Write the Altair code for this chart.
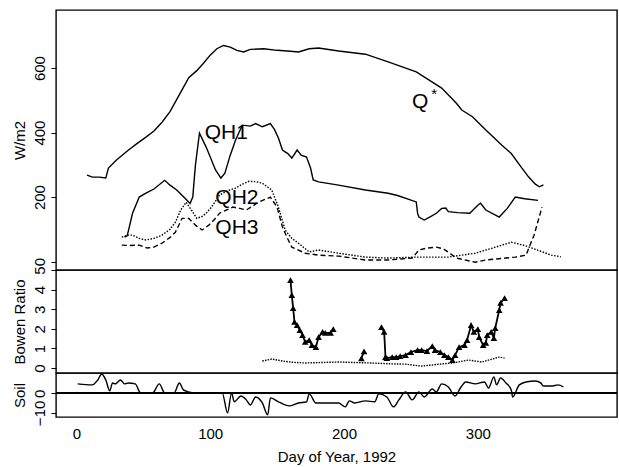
import altair as alt
import pandas as pd

# ---------------- data ----------------
qstar_day = [8, 12, 17, 22, 24, 30, 39, 45, 52, 58, 64, 70, 74, 80, 84, 90, 95, 100, 105, 110,
             115, 120, 125, 130, 140, 150, 160, 166, 174, 181, 196, 216, 233, 254, 273, 284,
             288, 296, 306, 318, 325, 332, 338, 343, 346, 349]
qstar_val = [268, 262, 262, 259, 290, 315, 346, 365, 386, 405, 432, 465, 495, 540, 570, 592,
             615, 640, 660, 670, 665, 655, 650, 658, 660, 655, 652, 650, 660, 662, 653, 643,
             619, 588, 538, 491, 470, 449, 408, 361, 335, 295, 262, 240, 232, 238]

qh1_day = [36, 38, 42, 47, 52, 58, 66, 70, 75, 81, 85, 87, 89, 92, 97, 104, 108, 111, 115, 119,
           124, 130, 134, 139, 145, 148, 151, 154, 158, 161, 165, 168, 172, 175, 177, 181, 196,
           216, 233, 240, 254, 255, 256, 260, 265, 269, 273, 276, 278, 285, 294, 300, 302, 306,
           316, 322, 328, 335, 345]
qh1_val = [76, 80, 150, 200, 212, 225, 252, 237, 222, 197, 180, 200, 300, 398, 355, 284, 259,
           274, 330, 377, 423, 420, 428, 418, 428, 410, 383, 346, 335, 321, 346, 330, 324, 290,
           253, 247, 237, 222, 212, 205, 185, 150, 138, 129, 140, 150, 165, 166, 155, 152, 150,
           175, 181, 160, 138, 165, 200, 195, 190]

qh2_day = [34, 38, 42, 47, 52, 58, 64, 70, 74, 78, 82, 86, 90, 94, 97, 101, 107, 113, 119, 124,
           129, 134, 139, 146, 151, 156, 161, 166, 174, 181, 196, 216, 233, 254, 278, 298, 311,
           325, 335, 345, 355, 362]
qh2_val = [76, 82, 82, 72, 67, 72, 82, 100, 122, 160, 184, 160, 134, 140, 150, 169, 206, 220,
           228, 240, 249, 248, 243, 222, 169, 98, 72, 57, 30, 36, 26, 14, 11, 14, 14, 26, 42,
           60, 50, 35, 20, 15]

qh3_day = [34, 40, 47, 53, 58, 64, 70, 74, 79, 84, 89, 94, 99, 103, 107, 117, 122, 127, 131,
           136, 145, 150, 154, 158, 161, 171, 181, 196, 216, 233, 251, 256, 262, 269, 274, 278,
           284, 298, 306, 321, 328, 336, 342, 348]
qh3_val = [51, 50, 51, 42, 45, 57, 75, 91, 134, 134, 113, 98, 113, 130, 150, 169, 165, 160, 170,
           184, 200, 169, 107, 70, 45, 26, 20, 17, 5, 5, 11, 36, 42, 45, 40, 29, 11, -2, 5, 11,
           14, 20, 82, 169]

bowen_seg = ([1] * 16) + ([2] * 2) + ([3] * 35)
bowen_day = [160, 161, 162, 163, 165, 167, 169, 171, 174, 176, 179, 181, 184, 186, 190, 192,
             213, 215,
             228, 230, 231, 232, 236, 239, 242, 246, 250, 255, 258, 262, 266, 268, 272, 275, 278,
             281, 283, 286, 290, 292, 295, 297, 300, 301, 304, 306, 307, 310, 312, 313, 316, 317,
             320]
bowen_val = [4.49, 3.72, 3.06, 2.35, 2.19, 1.94, 1.68, 1.33, 1.43, 1.17, 1.07, 1.58, 1.84, 1.79,
             1.79, 1.99,
             0.5, 0.85,
             2.09, 1.84, 0.56, 0.51, 0.56, 0.56, 0.61, 0.66, 0.82, 0.92, 0.92, 0.87, 1.12, 0.92,
             0.82, 0.66, 0.56, 0.41, 0.66, 1.07, 1.17, 1.43, 2.19, 1.84, 1.99, 1.58, 1.17, 1.28,
             1.68, 1.84, 1.53, 2.04, 2.96, 3.32, 3.57]

bowen2_day = [139, 146, 154, 161, 171, 181, 196, 210, 221, 233, 246, 258, 271, 281, 293, 303,
              316, 320]
bowen2_val = [0.36, 0.46, 0.36, 0.3, 0.26, 0.28, 0.31, 0.28, 0.26, 0.22, 0.2, 0.1, 0.2, 0.26,
              0.41, 0.31, 0.56, 0.51]

soil_day = [1, 12, 16, 19, 22, 25, 27, 29, 33, 36, 39, 44, 48, 57, 62, 66, 73, 77, 80, 84, 88,
            106, 109, 113, 116, 118, 123, 127, 130, 134, 139, 143, 145, 151, 159, 166, 172, 174,
            179, 186, 196, 201, 204, 208, 216, 223, 226, 232, 237, 241, 246, 251, 256, 260, 266,
            269, 273, 278, 283, 287, 291, 298, 305, 308, 312, 314, 317, 321, 325, 326, 331, 336,
            343, 347, 349, 355, 360, 364]
soil_val = [4.9, 4.4, 6.9, 10, 6.9, 1.3, 5.4, 4.9, 6.9, 4.9, 5.4, 4.9, 0.3, 0.3, 4.9, 0.3, 0.3,
            5.4, 1.8, 0.8, 0.3, 0.3, 0.3, -10, 0.3, -4.3, -1.3, -3.3, -5.9, -1.8, -4.9, -11, -2.3,
            -4.3, -6.4, -4.9, -4.3, -0.2, -4.9, -4.9, -4.9, -6.9, -3.8, -4.9, -3.8, -4.3, -0.2,
            -1.8, -6.9, -3.3, 0.8, -3.3, 0.8, -1.8, 2.3, 0.8, 4.9, 3.3, -1.3, 2.8, 5.9, 4.9, 5.9,
            2.8, 8.5, 4.4, 7.9, 5.4, 1.8, -1.8, 4.4, 5.9, 6.4, 5.4, 3.8, 3.8, 4.4, 3.3]

label_text = ["QH1", "QH2", "QH3", "Q"]
label_day = [112, 120, 120, 257]
label_val = [399, 197, 104, 495]

top_ticks = [0, 200, 400, 600]
bowen_ticks = [0, 1, 2, 3, 4, 5]
soil_ticks = [-10, 0]
x_ticks = [0, 100, 200, 300]

# ---------------- layout / style ----------------
FONT = "Liberation Sans"
X_DOMAIN = [-15.2, 404]
W = 561
LW = 1.4

xs = alt.Scale(domain=X_DOMAIN, nice=False, zero=False)


def yaxis(values, title):
    return alt.Axis(values=values, title=title, labelAngle=270, labelAlign="center",
                    labelBaseline="bottom", labelPadding=4, tickSize=5, titlePadding=5,
                    domain=False, grid=False)


def line_layer(days, vals, dash=None, ydom=None, yax=None):
    df = pd.DataFrame({"day": days, "val": vals})
    kw = dict(color="black", strokeWidth=LW)
    if dash:
        kw["strokeDash"] = dash
    return alt.Chart(df).mark_line(**kw).encode(
        x=alt.X("day:Q", scale=xs, axis=None),
        y=alt.Y("val:Q", scale=alt.Scale(domain=ydom, nice=False, zero=False), axis=yax),
    )


# ---- top panel ----
TOP_DOM = [-26, 780]
top_axis = yaxis(top_ticks, "W/m2")
q_layer = line_layer(qstar_day, qstar_val, ydom=TOP_DOM, yax=top_axis)
qh1_layer = line_layer(qh1_day, qh1_val, ydom=TOP_DOM, yax=top_axis)
qh2_layer = line_layer(qh2_day, qh2_val, dash=[1.5, 1.5], ydom=TOP_DOM, yax=top_axis)
qh3_layer = line_layer(qh3_day, qh3_val, dash=[5, 3], ydom=TOP_DOM, yax=top_axis)

lab_df = pd.DataFrame({"t": label_text, "day": label_day, "val": label_val})
labels = alt.Chart(lab_df).mark_text(font=FONT, fontSize=21, color="black").encode(
    x=alt.X("day:Q", scale=xs, axis=None),
    y=alt.Y("val:Q", scale=alt.Scale(domain=TOP_DOM, nice=False, zero=False), axis=top_axis),
    text="t:N",
)
star = alt.Chart(lab_df[lab_df.t == "Q"]).mark_text(
    font=FONT, fontSize=15, color="black", dx=14, dy=-8, text="*").encode(
    x=alt.X("day:Q", scale=xs, axis=None),
    y=alt.Y("val:Q", scale=alt.Scale(domain=TOP_DOM, nice=False, zero=False), axis=top_axis),
)

top = alt.layer(q_layer, qh1_layer, qh2_layer, qh3_layer, labels, star).properties(
    width=W, height=260)

# ---- Bowen panel ----
B_DOM = [-0.25, 5.0]
b_axis = yaxis(bowen_ticks, "Bowen Ratio")
bdf = pd.DataFrame({"day": bowen_day, "val": bowen_val, "seg": bowen_seg})
b_line = alt.Chart(bdf).mark_line(color="black", strokeWidth=1.8).encode(
    x=alt.X("day:Q", scale=xs, axis=None),
    y=alt.Y("val:Q", scale=alt.Scale(domain=B_DOM, nice=False, zero=False), axis=b_axis),
    detail="seg:N",
)
b_pts = alt.Chart(bdf).mark_point(shape="triangle-up", filled=True, color="black", size=44,
                                  opacity=1).encode(
    x=alt.X("day:Q", scale=xs, axis=None),
    y=alt.Y("val:Q", scale=alt.Scale(domain=B_DOM, nice=False, zero=False), axis=b_axis),
)
b2 = line_layer(bowen2_day, bowen2_val, dash=[1.5, 1.2], ydom=B_DOM, yax=b_axis)
bowen = alt.layer(b2, b_line, b_pts).properties(width=W, height=103)

# ---- Soil panel ----
S_DOM = [-12.1, 10.5]
s_axis = yaxis(soil_ticks, "Soil")
sdf = pd.DataFrame({"day": soil_day, "val": soil_val})
s_line = alt.Chart(sdf).mark_line(color="black", strokeWidth=LW, interpolate="monotone").encode(
    x=alt.X("day:Q", scale=xs,
            axis=alt.Axis(values=x_ticks, title="Day of Year, 1992", ticks=False,
                          labelPadding=9, titlePadding=8, domain=False, grid=False,
                          labelFlush=False)),
    y=alt.Y("val:Q", scale=alt.Scale(domain=S_DOM, nice=False, zero=False), axis=s_axis),
)
s_zero = alt.Chart(sdf).mark_rule(color="black", strokeWidth=1).encode(y=alt.datum(0))
soil = alt.layer(s_zero, s_line).properties(width=W, height=44)

chart = alt.vconcat(top, bowen, soil, spacing=0, bounds="flush").properties(
    padding={"left": 11, "top": 9, "right": 0, "bottom": 0},
    background="white",
).configure_view(
    stroke="black", strokeWidth=LW,
).configure_axis(
    labelFont=FONT, titleFont=FONT, labelFontSize=15, titleFontSize=15,
    labelColor="black", titleColor="black", tickColor="black", titleFontWeight="normal",
    tickWidth=1,
)

chart.save("out.html", embed_options={"renderer": "svg", "actions": False})
